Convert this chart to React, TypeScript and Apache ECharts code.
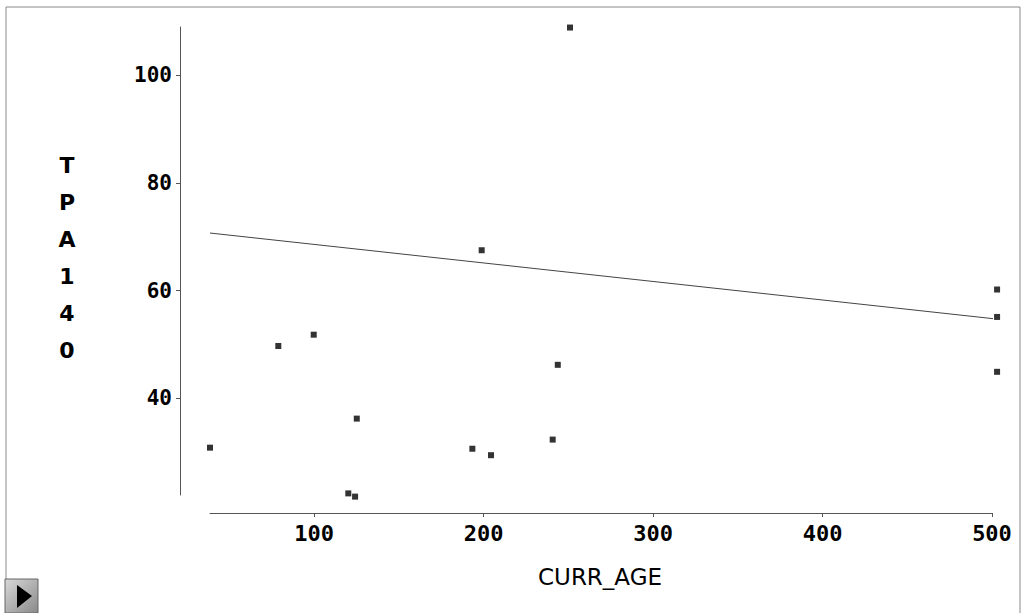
import React, { useEffect, useRef } from "react";
import * as echarts from "echarts";

const currAge: number[] = [38.6, 78.9, 99.8, 125.2, 120.2, 124.2, 193.4, 204.4, 198.9, 251, 243.8, 240.8, 503, 503, 503];
const tpa140: number[] = [30.8, 49.7, 51.8, 36.2, 22.3, 21.7, 30.6, 29.4, 67.5, 108.9, 46.2, 32.3, 60.2, 55.1, 44.9];

// Fitted regression line end points
const fitX: number[] = [38.6, 503];
const fitY: number[] = [70.7, 54.7];

const xTicks: number[] = [100, 200, 300, 400, 500];
const yTicks: number[] = [40, 60, 80, 100];

const xTitle = "CURR_AGE";
const yTitle = "TPA140";

export default function App() {
  const ref = useRef<HTMLDivElement>(null);

  useEffect(() => {
    if (!ref.current) return;
    const chart = echarts.init(ref.current, undefined, { renderer: "svg" });
    const labelFont = {
      fontFamily: "DejaVu Sans Mono",
      fontWeight: "bold" as const,
      fontSize: 21,
      color: "#000",
    };
    chart.setOption({
      animation: false,
      backgroundColor: "#ffffff",
      grid: { left: 210, right: 40, top: 27, bottom: 118 },
      xAxis: {
        type: "value",
        min: 38.6,
        max: 500,
        offset: 18,
        splitLine: { show: false },
        axisLine: { show: true, onZero: false, lineStyle: { color: "#555", width: 1 } },
        axisTick: { show: true, length: 4, customValues: xTicks, lineStyle: { color: "#555" } },
        axisLabel: { ...labelFont, fontSize: 22, margin: 9, customValues: xTicks },
      },
      yAxis: {
        type: "value",
        min: 22,
        max: 109,
        offset: 30,
        splitLine: { show: false },
        axisLine: { show: true, onZero: false, lineStyle: { color: "#555", width: 1 } },
        axisTick: { show: true, length: 4, customValues: yTicks, lineStyle: { color: "#555" } },
        axisLabel: { ...labelFont, margin: 8, customValues: yTicks },
      },
      series: [
        {
          type: "line",
          data: fitX.map((x, i) => [x, fitY[i]]),
          showSymbol: false,
          symbol: "none",
          clip: false,
          lineStyle: { color: "#444", width: 1 },
          silent: true,
        },
        {
          type: "scatter",
          data: currAge.map((x, i) => [x, tpa140[i]]),
          symbol: "rect",
          symbolSize: 6,
          clip: false,
          itemStyle: { color: "#000" },
        },
      ],
      graphic: [
        {
          type: "rect",
          shape: { x: 6, y: 7, width: 1014, height: 640 },
          style: { fill: "none", stroke: "#888", lineWidth: 1 },
          silent: true,
        },
        {
          type: "text",
          x: 600,
          y: 577,
          style: {
            text: xTitle,
            fontFamily: "DejaVu Sans",
            fontSize: 23,
            fill: "#000",
            textAlign: "center",
            textVerticalAlign: "middle",
          },
        },
        {
          type: "text",
          x: 67,
          y: 258,
          style: {
            text: yTitle.split("").join("\n"),
            fontFamily: "DejaVu Sans",
            fontWeight: "bold",
            fontSize: 22,
            lineHeight: 37,
            fill: "#000",
            textAlign: "center",
            textVerticalAlign: "middle",
          },
        },
        {
          type: "rect",
          shape: { x: 5, y: 579, width: 33, height: 34 },
          style: {
            fill: new echarts.graphic.LinearGradient(0, 0, 1, 1, [
              { offset: 0, color: "#d8d8d8" },
              { offset: 1, color: "#8a8a8a" },
            ]),
            stroke: "#666",
            lineWidth: 1,
          },
          silent: true,
        },
        {
          type: "polygon",
          shape: { points: [[17, 585], [32, 596], [17, 608]] },
          style: { fill: "#000" },
          silent: true,
        },
      ],
    });
    return () => chart.dispose();
  }, []);

  return (
    <div
      ref={ref}
      style={{ position: "absolute", left: 0, top: 0, width: 1032, height: 613, overflow: "hidden" }}
    />
  );
}
